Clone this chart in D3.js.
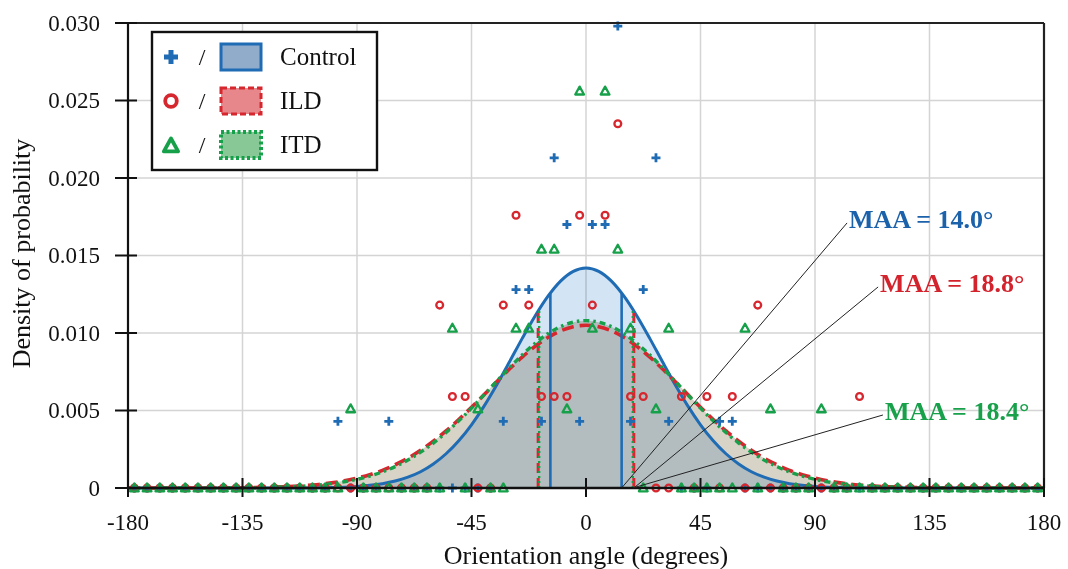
<!DOCTYPE html>
<html><head><meta charset="utf-8">
<script src="https://cdn.jsdelivr.net/npm/d3@7"></script>
<style>
html,body{margin:0;padding:0;background:#fff;}
svg{display:block;font-family:"Liberation Serif","Times New Roman",serif;}
</style></head><body>
<svg id="chart" width="1068" height="569"></svg>
<script>
// ---------------- DATA ----------------
const seriesNames = ["Control", "ILD", "ITD"];
const maaValues = [14.0, 18.8, 18.4];
const maaLabels = ["MAA = 14.0°", "MAA = 18.8°", "MAA = 18.4°"];
const xTicks = [-180, -135, -90, -45, 0, 45, 90, 135, 180];
const xTickLabels = ["-180", "-135", "-90", "-45", "0", "45", "90", "135", "180"];
const yTicks = [0, 0.005, 0.010, 0.015, 0.020, 0.025, 0.030];
const yTickLabels = ["0", "0.005", "0.010", "0.015", "0.020", "0.025", "0.030"];

// histogram bin centres (degrees)
const binAngles = [
  -177.5,-172.5,-167.5,-162.5,-157.5,-152.5,-147.5,-142.5,-137.5,-132.5,-127.5,-122.5,
  -117.5,-112.5,-107.5,-102.5,-97.5,-92.5,-87.5,-82.5,-77.5,-72.5,-67.5,-62.5,
  -57.5,-52.5,-47.5,-42.5,-37.5,-32.5,-27.5,-22.5,-17.5,-12.5,-7.5,-2.5,
  2.5,7.5,12.5,17.5,22.5,27.5,32.5,37.5,42.5,47.5,52.5,57.5,
  62.5,67.5,72.5,77.5,82.5,87.5,92.5,97.5,102.5,107.5,112.5,117.5,
  122.5,127.5,132.5,137.5,142.5,147.5,152.5,157.5,162.5,167.5,172.5,177.5
];
const controlDensity = [
  0,0,0,0,0,0,0,0,0,0,0,0,
  0,0,0,0,0.0043,0,0,0,0.0043,0,0,0,
  0,0,0,0,0,0.0043,0.0128,0.0128,0.0043,0.0213,0.0170,0.0043,
  0.0170,0.0170,0.0298,0.0043,0.0128,0.0213,0.0043,0,0,0,0.0043,0.0043,
  0,0,0,0,0,0,0,0,0,0,0,0,
  0,0,0,0,0,0,0,0,0,0,0,0
];
const ildDensity = [
  0,0,0,0,0,0,0,0,0,0,0,0,
  0,0,0,0,0,0,0,0,0,0,0,0,
  0.0118,0.0059,0.0059,0,0,0.0118,0.0176,0.0118,0.0059,0.0059,0.0059,0.0176,
  0.0118,0.0176,0.0235,0.0059,0.0059,0,0,0.0059,0,0.0059,0,0.0059,
  0,0.0118,0,0,0,0,0,0,0,0.0059,0,0,
  0,0,0,0,0,0,0,0,0,0,0,0
];
const itdDensity = [
  0,0,0,0,0,0,0,0,0,0,0,0,
  0,0,0,0,0,0.0051,0,0,0,0,0,0,
  0,0.0103,0,0.0051,0,0,0.0103,0.0103,0.0154,0.0154,0.0051,0.0256,
  0.0103,0.0256,0.0154,0.0103,0,0.0051,0.0103,0,0,0,0,0,
  0.0103,0,0.0051,0,0,0,0.0051,0,0,0,0,0,
  0,0,0,0,0,0,0,0,0,0,0,0
];

// fitted density curves, read every 5 degrees
const curveAngles = [
  -180,-175,-170,-165,-160,-155,-150,-145,-140,-135,-130,-125,-120,-115,-110,-105,-100,-95,-90,-85,-80,-75,-70,-65,-60,-55,-50,-45,-40,-35,-30,-25,-20,-15,-10,-5,
  0,
  5,10,15,20,25,30,35,40,45,50,55,60,65,70,75,80,85,90,95,100,105,110,115,120,125,130,135,140,145,150,155,160,165,170,175,180
];
const controlFit = [
  0,0,0,0,0,0,0,0,0,0,0,0,0,0,0,
  0.00001,0.00003,0.00005,0.00010,0.00017,0.00028,0.00045,0.00070,0.00105,0.00155,0.00221,0.00305,0.00408,0.00530,0.00668,0.00816,0.00967,0.01110,0.01236,0.01335,0.01398,
  0.01420,
  0.01398,0.01335,0.01236,0.01110,0.00967,0.00816,0.00668,0.00530,0.00408,0.00305,0.00221,0.00155,0.00105,0.00070,0.00045,0.00028,0.00017,0.00010,0.00005,0.00003,0.00001,
  0,0,0,0,0,0,0,0,0,0,0,0,0,0,0
];
const ildFit = [
  0,0,0,0,0,0,0,0,
  0.00001,0.00002,0.00003,0.00005,0.00007,0.00011,0.00016,0.00023,0.00033,0.00046,0.00064,0.00086,0.00114,0.00150,0.00192,0.00243,0.00302,0.00368,0.00442,0.00521,0.00603,0.00687,0.00769,0.00846,0.00914,0.00971,0.01014,0.01041,
  0.01050,
  0.01041,0.01014,0.00971,0.00914,0.00846,0.00769,0.00687,0.00603,0.00521,0.00442,0.00368,0.00302,0.00243,0.00192,0.00150,0.00114,0.00086,0.00064,0.00046,0.00033,0.00023,0.00016,0.00011,0.00007,0.00005,0.00003,0.00002,0.00001,
  0,0,0,0,0,0,0,0
];
const itdFit = [
  0,0,0,0,0,0,0,0,0,
  0.00001,0.00002,0.00004,0.00006,0.00009,0.00013,0.00019,0.00028,0.00040,0.00056,0.00077,0.00104,0.00138,0.00180,0.00231,0.00290,0.00358,0.00433,0.00515,0.00602,0.00690,0.00777,0.00860,0.00933,0.00995,0.01041,0.01070,
  0.01080,
  0.01070,0.01041,0.00995,0.00933,0.00860,0.00777,0.00690,0.00602,0.00515,0.00433,0.00358,0.00290,0.00231,0.00180,0.00138,0.00104,0.00077,0.00056,0.00040,0.00028,0.00019,0.00013,0.00009,0.00006,0.00004,0.00002,0.00001,
  0,0,0,0,0,0,0,0,0
];

// ---------------- STYLE ----------------
const colors = { Control: "#1f6cb4", ILD: "#d6262e", ITD: "#17a04a" };
const labelColors = { Control: "#1c62ab", ILD: "#d3232d", ITD: "#19a04b" };

const svg = d3.select("#chart");
const plot = { left: 128, right: 1044, top: 23, bottom: 488 };

const x = d3.scaleLinear().domain([-180, 180]).range([plot.left, plot.right]);
const y = d3.scaleLinear().domain([0, 0.030]).range([plot.bottom, plot.top]);

// grid
const grid = svg.append("g");
grid.selectAll("line.vg").data(xTicks).join("line")
  .attr("x1", d => x(d)).attr("x2", d => x(d))
  .attr("y1", plot.top).attr("y2", plot.bottom)
  .attr("stroke", "#d4d4d4").attr("stroke-width", 1.5);
grid.selectAll("line.hg").data(yTicks).join("line")
  .attr("x1", plot.left).attr("x2", plot.right)
  .attr("y1", d => y(d)).attr("y2", d => y(d))
  .attr("stroke", "#d4d4d4").attr("stroke-width", 1.5);

const pairs = (xs, ys) => xs.map((a, i) => [a, ys[i]]);
const ctrlPts = pairs(curveAngles, controlFit);
const ildPts = pairs(curveAngles, ildFit);
const itdPts = pairs(curveAngles, itdFit);

const area = d3.area().x(d => x(d[0])).y0(y(0)).y1(d => y(d[1])).curve(d3.curveMonotoneX);
const line = d3.line().x(d => x(d[0])).y(d => y(d[1])).curve(d3.curveMonotoneX);

// areas
svg.append("path").attr("d", area(ildPts)).attr("fill", "#d8d3c7");
svg.append("path").attr("d", area(itdPts)).attr("fill", "#d8d3c7");
svg.append("path").attr("d", area(ctrlPts)).attr("fill", "#d3e5f5").style("mix-blend-mode", "multiply");

// value on the control curve
function controlAt(a) {
  const i = d3.bisectLeft(curveAngles, a);
  if (i <= 0) return controlFit[0];
  const a0 = curveAngles[i - 1], a1 = curveAngles[i];
  const t = (a - a0) / (a1 - a0);
  return controlFit[i - 1] + t * (controlFit[i] - controlFit[i - 1]);
}

// curves
svg.append("path").attr("d", line(ctrlPts)).attr("fill", "none")
  .attr("stroke", colors.Control).attr("stroke-width", 3);
svg.append("path").attr("d", line(ildPts)).attr("fill", "none")
  .attr("stroke", colors.ILD).attr("stroke-width", 3.6).attr("stroke-dasharray", "12,6");
svg.append("path").attr("d", line(itdPts)).attr("fill", "none")
  .attr("stroke", colors.ITD).attr("stroke-width", 3.4).attr("stroke-dasharray", "6,4,2.5,4");

// MAA vertical lines
const vStyles = [
  { c: colors.Control, w: 2.6, dash: null },
  { c: colors.ILD, w: 3, dash: "10,5" },
  { c: colors.ITD, w: 2.4, dash: "2,3" }
];
[0, 1, 2].forEach(k => {
  [-1, 1].forEach(s => {
    const a = s * maaValues[k];
    const l = svg.append("line")
      .attr("x1", x(a)).attr("x2", x(a))
      .attr("y1", y(0)).attr("y2", y(controlAt(a)))
      .attr("stroke", vStyles[k].c).attr("stroke-width", vStyles[k].w);
    if (vStyles[k].dash) l.attr("stroke-dasharray", vStyles[k].dash);
  });
});

// markers
const plusPath = (s) => `M${-s},0H${s}M0,${-s}V${s}`;
const triPath = (s) => `M0,${-s}L${s * 0.95},${s * 0.72}L${-s * 0.95},${s * 0.72}Z`;

function drawMarkers(vals, kind) {
  const g = svg.append("g");
  const pts = pairs(binAngles, vals);
  if (kind === "plus") {
    g.selectAll("path").data(pts).join("path")
      .attr("transform", d => `translate(${x(d[0])},${y(d[1])})`)
      .attr("d", plusPath(4.5)).attr("fill", "none")
      .attr("stroke", colors.Control).attr("stroke-width", 2.8);
  } else if (kind === "circle") {
    g.selectAll("circle").data(pts).join("circle")
      .attr("cx", d => x(d[0])).attr("cy", d => y(d[1])).attr("r", 3.4)
      .attr("fill", "none").attr("stroke", colors.ILD).attr("stroke-width", 2.3);
  } else {
    g.selectAll("path").data(pts).join("path")
      .attr("transform", d => `translate(${x(d[0])},${y(d[1])})`)
      .attr("d", triPath(4.6)).attr("fill", "none")
      .attr("stroke", colors.ITD).attr("stroke-width", 2.3).attr("stroke-linejoin", "round");
  }
}
drawMarkers(controlDensity, "plus");
drawMarkers(ildDensity, "circle");
drawMarkers(itdDensity, "tri");

// frame / axes
svg.append("line").attr("x1", plot.left).attr("x2", plot.right).attr("y1", plot.top).attr("y2", plot.top)
  .attr("stroke", "#222").attr("stroke-width", 2.2);
svg.append("line").attr("x1", plot.right).attr("x2", plot.right).attr("y1", plot.top).attr("y2", plot.bottom)
  .attr("stroke", "#222").attr("stroke-width", 2.2);
svg.append("line").attr("x1", plot.left).attr("x2", plot.left).attr("y1", plot.top).attr("y2", plot.bottom + 1)
  .attr("stroke", "#111").attr("stroke-width", 2.2);
svg.append("line").attr("x1", plot.left).attr("x2", plot.right).attr("y1", plot.bottom).attr("y2", plot.bottom)
  .attr("stroke", "#111").attr("stroke-width", 2.6);

// ticks
svg.append("g").selectAll("line").data(xTicks).join("line")
  .attr("x1", d => x(d)).attr("x2", d => x(d))
  .attr("y1", plot.bottom - 10).attr("y2", plot.bottom + 9)
  .attr("stroke", "#111").attr("stroke-width", 2);
svg.append("g").selectAll("line").data(yTicks).join("line")
  .attr("x1", plot.left - 13).attr("x2", plot.left + 9)
  .attr("y1", d => y(d)).attr("y2", d => y(d))
  .attr("stroke", "#111").attr("stroke-width", 2);

// tick labels
svg.append("g").selectAll("text").data(xTicks).join("text")
  .attr("x", d => x(d)).attr("y", 530)
  .attr("text-anchor", "middle").attr("font-size", 23).attr("fill", "#111")
  .text((d, i) => xTickLabels[i]);
svg.append("g").selectAll("text").data(yTicks).join("text")
  .attr("x", 100).attr("y", d => y(d) + 7.5)
  .attr("text-anchor", "end").attr("font-size", 23).attr("fill", "#111")
  .text((d, i) => yTickLabels[i]);

// axis titles
svg.append("text").attr("x", (plot.left + plot.right) / 2).attr("y", 564)
  .attr("text-anchor", "middle").attr("font-size", 26).attr("fill", "#111")
  .text("Orientation angle (degrees)");
svg.append("text").attr("transform", `translate(30,${(plot.top + plot.bottom) / 2 - 2}) rotate(-90)`)
  .attr("text-anchor", "middle").attr("font-size", 26).attr("fill", "#111")
  .text("Density of probability");

// MAA annotations (label anchor in data units)
const annot = [
  { k: 0, ax: 102.6, ay: 0.0171 },
  { k: 1, ax: 114.8, ay: 0.01297 },
  { k: 2, ax: 116.7, ay: 0.00471 }
];
annot.forEach(a => {
  const name = seriesNames[a.k];
  svg.append("line")
    .attr("x1", x(maaValues[a.k])).attr("y1", y(0))
    .attr("x2", x(a.ax)).attr("y2", y(a.ay))
    .attr("stroke", "#222").attr("stroke-width", 1);
  svg.append("text")
    .attr("x", x(a.ax) + 2).attr("y", y(a.ay) + 5)
    .attr("font-size", 26).attr("font-weight", "bold")
    .attr("fill", labelColors[name])
    .text(maaLabels[a.k]);
});

// legend
const lg = svg.append("g");
lg.append("rect").attr("x", 152).attr("y", 32).attr("width", 225).attr("height", 138)
  .attr("fill", "#fff").attr("stroke", "#111").attr("stroke-width", 2.4);
const rowY = [57, 101, 145];
const legFill = ["#91abcb", "#e8878b", "#87c896"];
const legDash = [null, "6,3", "3,2.5"];
const legW = [3, 3, 4];
seriesNames.forEach((name, i) => {
  const cy = rowY[i];
  if (i === 0) {
    lg.append("path").attr("transform", `translate(171,${cy})`).attr("d", plusPath(7))
      .attr("stroke", colors.Control).attr("stroke-width", 5).attr("fill", "none");
  } else if (i === 1) {
    lg.append("circle").attr("cx", 171).attr("cy", cy).attr("r", 5.8)
      .attr("fill", "none").attr("stroke", colors.ILD).attr("stroke-width", 3.8);
  } else {
    lg.append("path").attr("transform", `translate(171,${cy + 1})`).attr("d", triPath(7.5))
      .attr("fill", "none").attr("stroke", colors.ITD).attr("stroke-width", 3.8).attr("stroke-linejoin", "round");
  }
  lg.append("text").attr("x", 202).attr("y", cy + 8).attr("text-anchor", "middle")
    .attr("font-size", 24).attr("fill", "#111").text("/");
  const r = lg.append("rect").attr("x", 221).attr("y", cy - 13).attr("width", 40).attr("height", 26)
    .attr("fill", legFill[i]).attr("stroke", colors[name]).attr("stroke-width", legW[i]);
  if (legDash[i]) r.attr("stroke-dasharray", legDash[i]);
  lg.append("text").attr("x", 280).attr("y", cy + 8).attr("font-size", 25).attr("fill", "#111").text(name);
});
</script>
</body></html>
